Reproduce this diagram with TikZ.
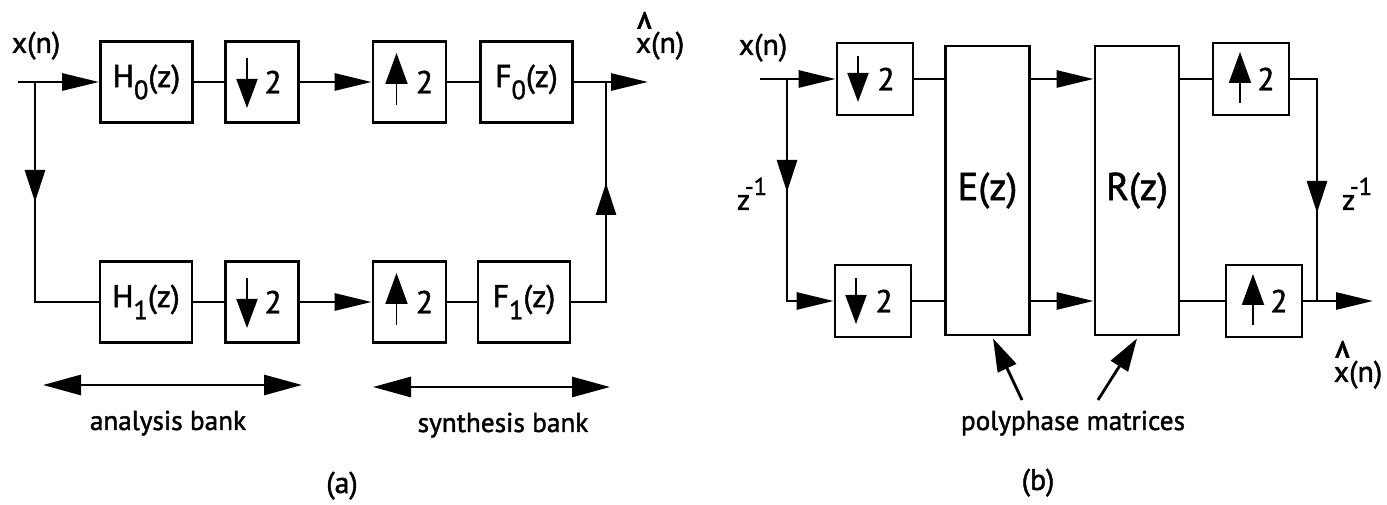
\documentclass[tikz,border=0pt]{standalone}
\usepackage{fontspec}
\setmainfont{PT Sans}[FakeBold=1.5]
\usetikzlibrary{arrows.meta,calc}
\newcommand\lowsub[1]{\raisebox{-0.38em}{\fontsize{15}{15}\selectfont #1}}
\newcommand\xhat{\makebox[0pt][l]{\raisebox{-0.05em}{\scalebox{1.2}[2.0]{\symbol{"5E}}}}x}
\newcommand\zinv{z\kern-0.18em\raisebox{0.5em}{\fontsize{14}{14}\selectfont -1}}
\begin{document}
\begin{tikzpicture}[x=0.2mm, y=-0.2mm, line width=1.6pt,
  box/.style={draw, line width=1.6pt, inner sep=0pt, font=\fontsize{18}{21}\selectfont},
  fbox/.style={box, minimum width=18.4mm, minimum height=16.2mm},
  sbox/.style={box, minimum width=14.6mm, minimum height=16.2mm},
  pbox/.style={box, minimum width=15.2mm, minimum height=14.4mm},
  mbox/.style={box, minimum width=16.8mm, minimum height=57.8mm, font=\fontsize{22}{25}\selectfont},
  flowarr/.style={-{Triangle[length=7.4mm,width=3.4mm]}},
  vflowarr/.style={-{Triangle[length=6.4mm,width=4mm]}},
  dblarr/.style={{Triangle[length=7.6mm,width=4mm]}-{Triangle[length=7.6mm,width=4mm]}},
  pmarr/.style={-{Triangle[length=6.6mm,width=4mm]}},
  dnarr/.style={line width=1.1pt, -{Triangle[length=5.8mm,width=4.2mm]}},
  uparr/.style={line width=1.1pt, -{Triangle[length=6.2mm,width=4.4mm]}},
  txt/.style={font=\fontsize{17}{20}\selectfont, inner sep=0pt, anchor=base},
  captext/.style={font=\fontsize{15.5}{18}\selectfont, inner sep=0pt, anchor=base}]
\useasboundingbox (0,0) rectangle (1387,505);

% ---------------- panel (a) ----------------
\coordinate (inA) at (18,82);
\coordinate (jA) at (35,82);
\coordinate (aTip) at (35,202);
\node[fbox] (H0) at (146.5,82) {H\lowsub{0}(z)};
\node[sbox] (D0a) at (262,82) {\hspace{12.6pt}2};
\node[sbox] (U0a) at (409.5,82) {\hspace{17pt}2};
\node[fbox] (F0) at (526.5,82) {F\lowsub{0}(z)};
\coordinate (jB) at (606,82);
\coordinate (outA) at (648,82);
\coordinate (jBb) at (606,302);
\coordinate (bTip) at (606,183);

\node[fbox] (H1) at (146,302) {H\lowsub{1}(z)};
\node[sbox] (D1a) at (262,302) {\hspace{12.6pt}2};
\node[sbox] (U1a) at (409.5,302) {\hspace{17pt}2};
\node[fbox] (F1) at (524,302) {F\lowsub{1}(z)};

\draw[flowarr] (inA) -- (H0.west);
\draw (H0) -- (D0a);
\draw[flowarr] (D0a) -- (U0a);
\draw (U0a) -- (F0);
\draw[flowarr] (F0.east) -- (outA);
\draw (jA) |- (H1.west);
\draw[vflowarr] (jA) -- (aTip);
\draw (H1) -- (D1a);
\draw[flowarr] (D1a) -- (U1a);
\draw (U1a) -- (F1);
\draw (F1.east) -| (jB);
\draw[vflowarr] (jBb) -- (bTip);

\foreach \b in {D0a,D1a}{\draw[dnarr] ($(\b.center)+(-15,-24)$) -- ($(\b.center)+(-15,26)$);}
\foreach \b in {U0a,U1a}{\draw[uparr] ($(\b.center)+(-13,23)$) -- ($(\b.center)+(-13,-29)$);}

\node[txt] (xa) at (36,53) {x(n)};
\node[txt] (xha) at (660,53) {\xhat(n)};

\coordinate (anL) at (43,385);
\coordinate (anR) at (302,385);
\coordinate (syL) at (373,387);
\coordinate (syR) at (610,387);
\draw[dblarr] (anL) -- (anR);
\draw[dblarr] (syL) -- (syR);
\node[captext] (an) at (168,430) {analysis bank};
\node[captext] (sy) at (503,432) {synthesis bank};
\node[txt] (ca) at (342,493) {(a)};

% ---------------- panel (b) ----------------
\coordinate (inB) at (760,79);
\coordinate (jC) at (787,79);
\coordinate (cTip) at (787,192);
\node[pbox] (D0b) at (875,79) {\hspace{12.6pt}2};
\node[pbox] (D1b) at (873,301) {\hspace{12.6pt}2};
\node[mbox] (E) at (987.5,190.5) {E(z)};
\node[mbox] (R) at (1137,190.5) {R(z)};
\node[pbox] (U0b) at (1251,79) {\hspace{17pt}2};
\node[pbox] (U1b) at (1264,301) {\hspace{17pt}2};
\coordinate (jD) at (1317,301);
\coordinate (dTop) at (1317,79);
\coordinate (dTip) at (1317,213);
\coordinate (outB) at (1373,301);

\draw[flowarr] (inB) -- (D0b.west);
\draw[flowarr] (jC) |- (D1b.west);
\draw[vflowarr] (jC) -- (cTip);
\draw (D0b.east) -- (D0b.east -| E.west);
\draw (D1b.east) -- (D1b.east -| E.west);
\draw[flowarr] (E.east |- D0b) -- (R.west |- D0b);
\draw[flowarr] (E.east |- D1b) -- (R.west |- D1b);
\draw (R.east |- U0b) -- (U0b.west);
\draw (R.east |- U1b) -- (U1b.west);
\draw (U0b.east) -| (jD);
\draw[vflowarr] (dTop) -- (dTip);
\draw[flowarr] (U1b.east) -- (outB);

\foreach \b in {D0b,D1b}{\draw[dnarr] ($(\b.center)+(-17,-23)$) -- ($(\b.center)+(-17,23)$);}
\foreach \b in {U0b,U1b}{\draw[uparr] ($(\b.center)+(-11,24)$) -- ($(\b.center)+(-11,-27)$);}

\node[txt] (xb) at (763,55) {x(n)};
\node[txt] (zl) at (752,210) {\zinv};
\node[txt] (zr) at (1357,210) {\zinv};
\node[txt] (xhb) at (1358,382) {\xhat(n)};

\coordinate (pmL) at (1022,400);
\coordinate (pmR) at (1098,400);
\draw[pmarr] (pmL) -- ($(E.south)+(5.5,2)$);
\draw[pmarr] (pmR) -- ($(R.south)+(0,2)$);
\node[captext] (pp) at (1073,430) {polyphase matrices};
\node[txt] (cb) at (1038,490) {(b)};
\end{tikzpicture}
\end{document}
